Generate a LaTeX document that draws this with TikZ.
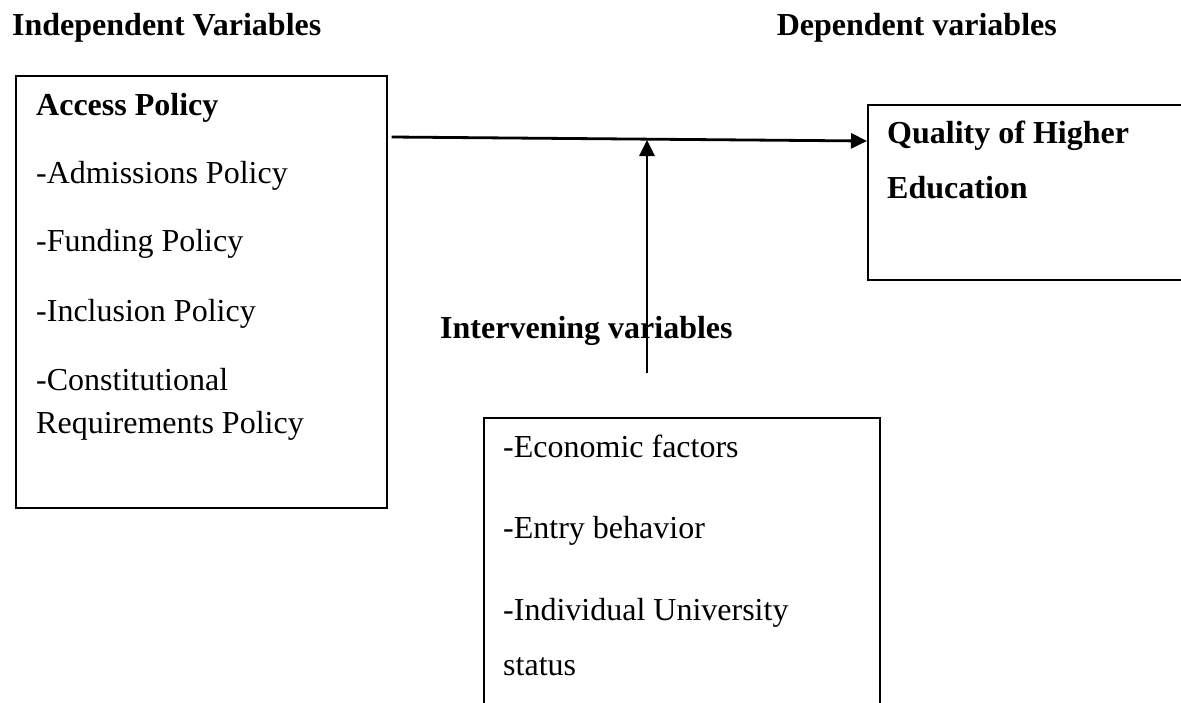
\documentclass[tikz,border=0pt]{standalone}
\usepackage{fontspec}
\setmainfont{Liberation Serif}
\usetikzlibrary{arrows.meta}
\begin{document}
\begin{tikzpicture}[x=1pt,y=-1pt,
  txt/.style={anchor=base west, inner sep=0pt, font=\fontsize{32}{38}\selectfont},
  head/.style={anchor=base west, inner sep=0pt, font=\fontsize{32}{38}\selectfont\bfseries},
  box/.style={draw, line width=1.7pt, inner sep=0pt, anchor=north west},
  conn/.style={line width=2.8pt, -{Triangle[length=16pt,width=15pt]}}
]
\useasboundingbox (0,0) rectangle (1181,702);
\fill[white] (0,0) rectangle (1181,702);
\clip (0,0) rectangle (1181,702);

% headings
\node[head] (indep) at (12,35) {Independent Variables};
\node[head, anchor=base east] (dep) at (1057,35) {Dependent variables};

% boxes
\node[box, minimum width=371pt, minimum height=432pt] (access) at (15,75) {};
\node[box, minimum width=420pt, minimum height=175pt] (quality) at (867,104) {};
\node[box, minimum width=396pt, minimum height=400pt] (interv) at (483,417) {};

% left box text
\node[head] (t1) at (36,115) {Access Policy};
\node[txt] (t2) at (36,183) {-Admissions Policy};
\node[txt] (t3) at (36,251) {-Funding Policy};
\node[txt] (t4) at (36,321) {-Inclusion Policy};
\node[txt] (t5) at (36,390) {-Constitutional};
\node[txt] (t6) at (36,433) {Requirements Policy};

% right box text
\node[head] (q1) at (887,143) {Quality of Higher};
\node[head] (q2) at (887,198) {Education};

% intervening label
\node[head] (ivlab) at (440,338) {Intervening variables};

% bottom box text
\node[txt] (b1) at (503,457) {-Economic factors};
\node[txt] (b2) at (503,538) {-Entry behavior};
\node[txt] (b3) at (503,620) {-Individual University};
\node[txt] (b4) at (503,675) {status};

% connectors
\coordinate (h1) at ([xshift=4pt]access.north east |- 0,137);
\coordinate (h2) at (quality.west |- 0,141);
\draw[conn] (h1) -- (h2);
\coordinate (v1) at (647,373);
\coordinate (v2) at (647,140);
\draw[conn] (v1) -- (v2);
\end{tikzpicture}
\end{document}
